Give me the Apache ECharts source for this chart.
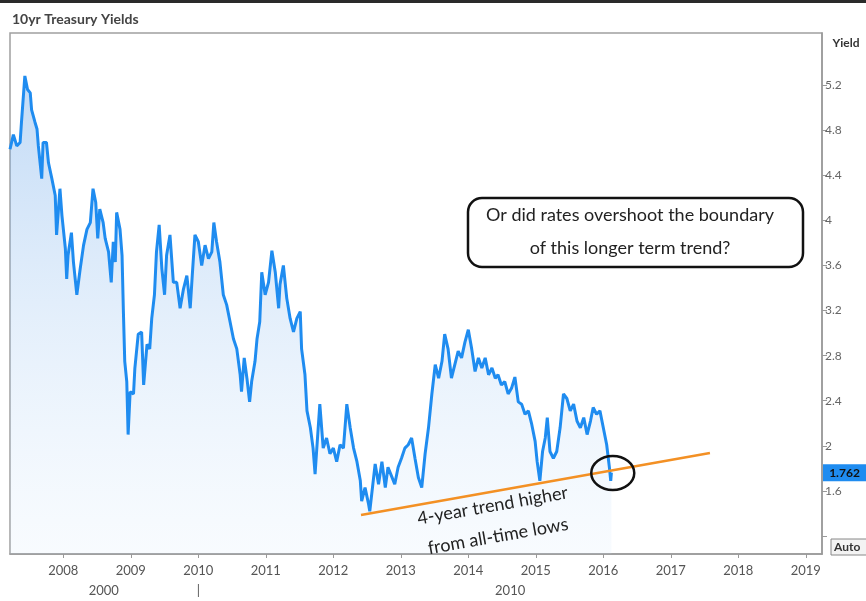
<!DOCTYPE html>
<html><head><meta charset="utf-8">
<script src="https://cdn.jsdelivr.net/npm/echarts@6/dist/echarts.min.js"></script>
<style>html,body{margin:0;padding:0;background:#fff}#c{width:866px;height:601px}</style>
</head><body><div id="c"></div>
<script>
const years = [2007.21,2007.26,2007.31,2007.36,2007.38,2007.43,2007.47,2007.51,2007.53,2007.58,2007.61,2007.63,2007.68,2007.70,2007.75,2007.78,2007.83,2007.88,2007.90,2007.95,2007.98,
2008.03,2008.05,2008.07,2008.12,2008.15,2008.20,2008.25,2008.30,2008.35,2008.40,2008.44,2008.48,2008.51,2008.54,2008.59,2008.62,2008.67,2008.71,2008.74,2008.77,2008.79,2008.84,2008.87,2008.89,2008.91,2008.94,2008.96,2008.99,
2009.04,2009.06,2009.11,2009.16,2009.19,2009.24,2009.28,2009.31,2009.35,2009.38,2009.42,2009.46,2009.50,2009.53,2009.58,2009.63,2009.68,2009.73,2009.78,2009.83,2009.88,2009.91,2009.95,
2010.00,2010.05,2010.10,2010.15,2010.20,2010.23,2010.27,2010.32,2010.37,2010.42,2010.47,2010.52,2010.57,2010.62,2010.64,2010.68,2010.72,2010.76,2010.79,2010.84,2010.87,2010.91,2010.94,2010.99,
2011.04,2011.09,2011.14,2011.19,2011.21,2011.26,2011.31,2011.36,2011.41,2011.46,2011.51,2011.53,2011.58,2011.61,2011.66,2011.70,2011.73,2011.75,2011.80,2011.85,2011.90,2011.95,
2012.00,2012.05,2012.10,2012.15,2012.20,2012.25,2012.30,2012.35,2012.40,2012.42,2012.47,2012.52,2012.54,2012.58,2012.62,2012.67,2012.72,2012.77,2012.81,2012.87,2012.91,2012.96,
2013.01,2013.06,2013.11,2013.16,2013.21,2013.26,2013.31,2013.36,2013.41,2013.46,2013.51,2013.56,2013.61,2013.65,2013.70,2013.75,2013.80,2013.85,2013.90,2013.95,
2014.00,2014.05,2014.10,2014.15,2014.20,2014.25,2014.30,2014.35,2014.40,2014.44,2014.49,2014.54,2014.59,2014.64,2014.69,2014.74,2014.79,2014.84,2014.89,2014.94,2014.99,
2015.02,2015.06,2015.10,2015.14,2015.17,2015.21,2015.26,2015.31,2015.36,2015.41,2015.46,2015.51,2015.56,2015.61,2015.66,2015.71,2015.76,2015.81,2015.85,2015.90,2015.95,
2016.00,2016.05,2016.09,2016.11,2016.12];
const yields = [4.63,4.76,4.66,4.69,4.87,5.28,5.16,5.13,4.98,4.87,4.81,4.66,4.37,4.69,4.69,4.51,4.37,4.22,3.87,4.28,4.04,
3.75,3.48,3.69,3.89,3.63,3.34,3.57,3.78,3.92,3.98,4.28,4.16,3.84,4.10,3.98,3.84,3.72,3.45,3.81,3.63,4.07,3.92,3.69,3.19,2.75,2.57,2.10,2.48,
2.46,2.69,2.99,3.01,2.54,2.90,2.86,3.13,3.34,3.72,3.96,3.57,3.34,3.69,3.87,3.45,3.45,3.22,3.39,3.51,3.22,3.51,3.87,
3.81,3.60,3.78,3.66,3.72,3.98,3.81,3.63,3.34,3.25,3.10,2.95,2.86,2.63,2.48,2.78,2.60,2.39,2.57,2.75,2.95,3.10,3.54,3.34,
3.45,3.73,3.54,3.22,3.43,3.60,3.31,3.13,3.01,3.13,3.19,2.86,2.63,2.31,2.16,1.98,1.75,1.93,2.37,1.98,2.07,1.93,
1.98,1.86,2.01,1.98,2.37,2.16,1.98,1.86,1.69,1.51,1.63,1.49,1.42,1.63,1.84,1.66,1.86,1.63,1.81,1.72,1.66,1.81,
1.89,1.98,2.01,2.07,1.89,1.72,1.63,1.93,2.16,2.46,2.72,2.60,2.75,2.99,2.86,2.60,2.72,2.84,2.78,2.92,
3.03,2.86,2.66,2.78,2.69,2.78,2.63,2.69,2.60,2.63,2.54,2.57,2.46,2.51,2.61,2.39,2.37,2.28,2.31,2.19,2.04,
1.86,1.69,1.95,2.07,2.25,1.95,1.89,1.95,2.16,2.46,2.42,2.31,2.37,2.22,2.16,2.25,2.10,2.22,2.34,2.28,2.31,
2.16,2.01,1.81,1.69,1.762];
const trendYears = [2012.41, 2017.58];
const trendYields = [1.387, 1.937];
const xTickYears = [2008,2009,2010,2011,2012,2013,2014,2015,2016,2017,2018,2019];
const decadeValues = [2008.6, 2010, 2014.62];
const decadeTexts = ['2000', '|', '2010'];
const yTickValues = [1.2,1.6,2,2.4,2.8,3.2,3.6,4,4.4,4.8,5.2];
const yLabelValues = [1.6,2,2.4,2.8,3.2,3.6,4,4.4,4.8,5.2];
const lastYield = 1.762;
const circleCenter = [2016.14, 1.76];
const noteCenter = [2014.40, 1.334];
const titleText = '10yr Treasury Yields';
const calloutText = 'Or did rates overshoot the boundary\nof this longer term trend?';
const trendNote = '4-year trend higher\nfrom all-time lows';

const chart = echarts.init(document.getElementById('c'), null, {renderer: 'canvas'});
const FONT = 'Lato, "Open Sans", sans-serif';
const lineData = years.map((y, i) => [y, yields[i]]);
const trendData = trendYears.map((y, i) => [y, trendYields[i]]);

chart.setOption({
  animation: false,
  backgroundColor: '#fff',
  grid: {left: 10, right: 44, top: 33, bottom: 47, show: true, borderColor: '#a0a0a0', borderWidth: 1.5, backgroundColor: 'transparent'},
  xAxis: [{
    type: 'value', min: 2007.21, max: 2019.24, position: 'bottom',
    axisLine: {show: true, onZero: false, lineStyle: {color: '#999', width: 1.5}},
    axisTick: {show: true, customValues: xTickYears, length: 4, lineStyle: {color: '#999'}},
    axisLabel: {customValues: xTickYears, color: '#555', fontSize: 13, fontFamily: FONT, margin: 10, formatter: v => String(Math.round(v))},
    splitLine: {show: false}
  }, {
    type: 'value', min: 2007.21, max: 2019.24, position: 'bottom', offset: 20,
    axisLine: {show: false}, axisTick: {show: false},
    axisLabel: {customValues: decadeValues, color: '#555', fontSize: 13, fontFamily: FONT, margin: 10,
      formatter: v => { const i = decadeValues.findIndex(d => Math.abs(d - v) < 1e-6); return i >= 0 ? decadeTexts[i] : ''; }},
    splitLine: {show: false}
  }],
  yAxis: {
    type: 'value', position: 'right', min: 1.041, max: 5.661,
    axisLine: {show: true, lineStyle: {color: '#999', width: 1.5}},
    axisTick: {show: true, customValues: yTickValues, length: 5, lineStyle: {color: '#999'}},
    axisLabel: {customValues: yLabelValues, color: '#666', fontSize: 12, fontFamily: FONT, margin: 3},
    splitLine: {show: false}
  },
  series: [{
    type: 'line', data: lineData, showSymbol: false, z: 3,
    lineStyle: {color: '#1f8cf0', width: 3},
    areaStyle: {color: new echarts.graphic.LinearGradient(0, 0, 0, 1, [
      {offset: 0, color: 'rgba(80,150,228,0.50)'},
      {offset: 1, color: 'rgba(200,225,250,0.18)'}
    ])}
  }, {
    type: 'line', data: trendData, showSymbol: false, z: 4,
    lineStyle: {color: '#f39024', width: 2.5}
  }]
});

const cc = chart.convertToPixel({xAxisIndex: 0, yAxisIndex: 0}, circleCenter);
const nc = chart.convertToPixel({xAxisIndex: 0, yAxisIndex: 0}, noteCenter);
const ly = chart.convertToPixel({yAxisIndex: 0}, lastYield);

chart.setOption({
  graphic: [
    {type: 'rect', shape: {x: 0, y: 0, width: 866, height: 3}, style: {fill: '#2a2a2a'}, z: 10},
    {type: 'text', x: 12, y: 19, style: {text: titleText, fontSize: 14, fontWeight: 'bold', fontFamily: FONT, fill: '#444', textVerticalAlign: 'middle'}, z: 10},
    {type: 'text', x: 846, y: 43, style: {text: 'Yield', fontSize: 12, fontWeight: 'bold', fontFamily: FONT, fill: '#333', textAlign: 'center', textVerticalAlign: 'middle'}, z: 10},
    {type: 'rect', shape: {x: 468, y: 198, width: 335, height: 69, r: 14}, style: {fill: '#fff', stroke: '#111', lineWidth: 2.5}, z: 10},
    {type: 'text', x: 630, y: 232, style: {text: calloutText, fontSize: 18, fontFamily: FONT, fill: '#222', textAlign: 'center', textVerticalAlign: 'middle', lineHeight: 33}, z: 11},
    {type: 'ellipse', shape: {cx: cc[0], cy: cc[1], rx: 21.5, ry: 17}, style: {fill: 'none', stroke: '#111', lineWidth: 2.5}, z: 10},
    {type: 'text', x: nc[0], y: nc[1], rotation: 10 * Math.PI / 180, style: {text: trendNote, fontSize: 18, fontFamily: FONT, fill: '#222', textAlign: 'center', textVerticalAlign: 'middle', lineHeight: 31}, z: 10},
    {type: 'rect', shape: {x: 823, y: ly - 8.5, width: 43, height: 17}, style: {fill: '#1f8cf0'}, z: 10},
    {type: 'text', x: 844.5, y: ly, style: {text: String(lastYield), fontSize: 12, fontWeight: 'bold', fontFamily: FONT, fill: '#111', textAlign: 'center', textVerticalAlign: 'middle'}, z: 11},
    {type: 'rect', shape: {x: 831, y: 539, width: 36, height: 16}, style: {fill: '#f3f3f3', stroke: '#888', lineWidth: 1}, z: 10},
    {type: 'text', x: 834, y: 547.5, style: {text: 'Auto', fontSize: 12, fontWeight: 'bold', fontFamily: FONT, fill: '#333', textVerticalAlign: 'middle'}, z: 11}
  ]
});
</script>
</body></html>
